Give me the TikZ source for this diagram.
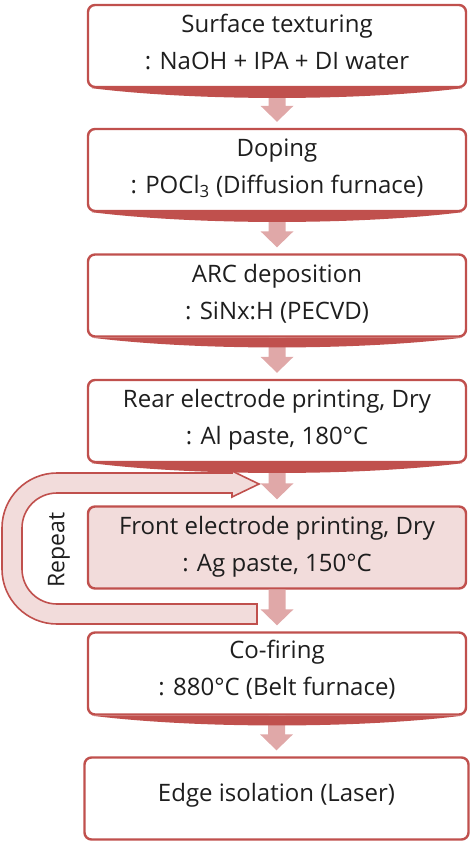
\documentclass[tikz,border=0pt]{standalone}
\usepackage{fontspec}
\setmainfont{Open Sans}
\usetikzlibrary{calc}
\definecolor{boxred}{RGB}{192,80,77}
\definecolor{arrowpink}{RGB}{224,168,168}
\definecolor{lightpink}{RGB}{242,220,219}
\definecolor{txt}{RGB}{30,30,30}
\tikzset{
  procbox/.style={draw=boxred, line width=2.4pt, rounded corners=7pt, fill=white,
    minimum width=378pt, minimum height=82pt, inner sep=0pt},
  hlbox/.style={procbox, fill=lightpink},
  lbl/.style={font=\fontsize{24}{28}\selectfont, text=txt, anchor=base, inner sep=0pt},
  fat/.style={fill=arrowpink},
  crescent/.style={fill=boxred},
  loopshape/.style={draw=boxred, line width=1.6pt, fill=lightpink, line join=miter},
}
\newcommand\fatarr[3]{%
  \path (#1.south) coordinate (#3s);
  \path ($(#2.north)+(0,-6)$) coordinate (#3t);
  \fill[fat] ($(#3s)+(-8.5,0)$) -- ($(#3t)+(-8.5,-16)$) -- ($(#3t)+(-16.5,-16)$) -- (#3t)
     -- ($(#3t)+(16.5,-16)$) -- ($(#3t)+(8.5,-16)$) -- ($(#3s)+(8.5,0)$) -- cycle;
}
\newcommand\crsc[1]{%
  \fill[crescent] ($(#1.south west)+(5,0)$) .. controls ($(#1.south west)+(110,13)$) and ($(#1.south east)+(-110,13)$) .. ($(#1.south east)+(-5,0)$) -- cycle;
}
\begin{document}
\begin{tikzpicture}[x=1pt,y=-1pt]
\useasboundingbox (0,0) rectangle (472,844);
% boxes
\node[procbox] (b1) at (277,46) {};
\node[procbox] (b2) at (277,170) {};
\node[procbox] (b3) at (277,295.5) {};
\node[procbox] (b4) at (277,421) {};
\node[hlbox]   (b5) at (277,547.5) {};
\node[procbox] (b6) at (277,673.5) {};
\node[procbox, minimum width=384pt] (b7) at (276.5,798.5) {};
% arrows
\fatarr{b1}{b2}{a1}
\fatarr{b2}{b3}{a2}
\fatarr{b3}{b4}{a3}
\fatarr{b4}{b5}{a4}
\fatarr{b5}{b6}{a5}
\fatarr{b6}{b7}{a6}
% crescents (shadow-like bottom)
\crsc{b1}
\crsc{b2}
\crsc{b3}
\crsc{b4}
\crsc{b6}
% repeat loop
\draw[loopshape] (232,473) -- (150,473) [rounded corners=55pt] -- (2,473) -- (2,624) -- (150,624) [sharp corners]
  -- (257,624) -- (257,604) -- (150,604) [rounded corners=35pt] -- (22,604) -- (22,493) -- (150,493) [sharp corners]
  -- (232,493) -- (232,497) -- (259,484) -- (232,471) -- cycle;
\node[font=\fontsize{23}{26}\selectfont, text=txt, rotate=90, inner sep=0pt] (rep) at (59,550) {Repeat};
% texts
\node[lbl] (t1a) at ($(b1.north)+(0,29)$) {Surface texturing};
\node[lbl] (t1b) at ($(b1.north)+(0,66)$) {: NaOH + IPA + DI water};
\node[lbl] (t2a) at ($(b2.north)+(0,29)$) {Doping};
\node[lbl] (t2b) at ($(b2.north)+(0,66)$) {: POCl\textsubscript{3} (Diffusion furnace)};
\node[lbl] (t3a) at ($(b3.north)+(0,29)$) {ARC deposition};
\node[lbl] (t3b) at ($(b3.north)+(0,66)$) {: SiNx:H (PECVD)};
\node[lbl] (t4a) at ($(b4.north)+(0,29)$) {Rear electrode printing, Dry};
\node[lbl] (t4b) at ($(b4.north)+(0,66)$) {: Al paste, 180°C};
\node[lbl] (t5a) at ($(b5.north)+(0,29)$) {Front electrode printing, Dry};
\node[lbl] (t5b) at ($(b5.north)+(0,66)$) {: Ag paste, 150°C};
\node[lbl] (t6a) at ($(b6.north)+(0,27)$) {Co-firing};
\node[lbl] (t6b) at ($(b6.north)+(0,64)$) {: 880°C (Belt furnace)};
\node[lbl] (t7a) at ($(b7.north)+(0,45)$) {Edge isolation (Laser)};
\end{tikzpicture}
\end{document}
